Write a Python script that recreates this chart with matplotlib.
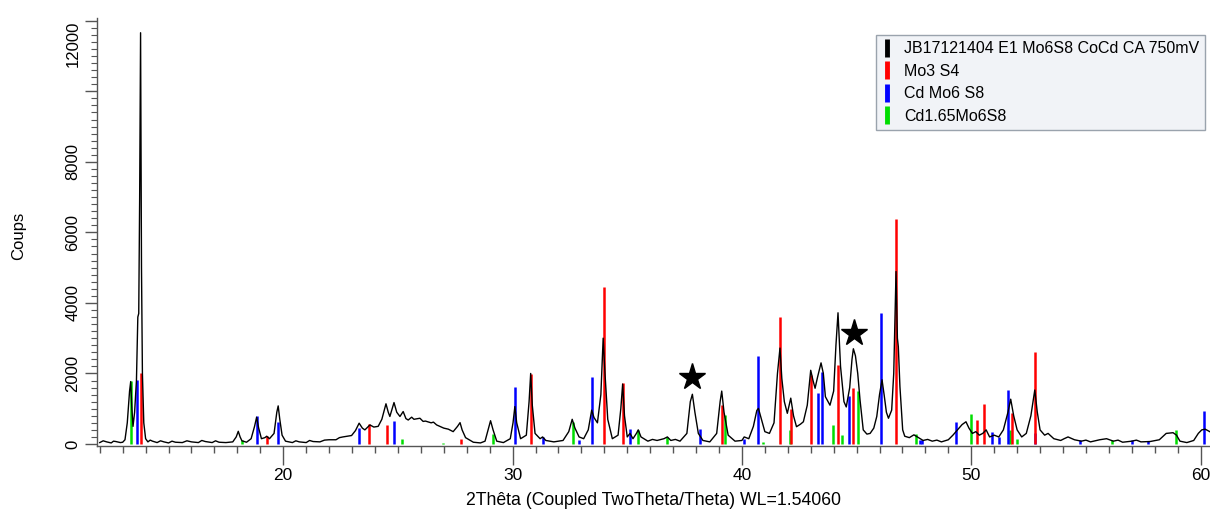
import matplotlib
matplotlib.use("Agg")
import matplotlib.pyplot as plt
from matplotlib.lines import Line2D
from matplotlib.ticker import MultipleLocator, FixedLocator
from matplotlib import font_manager as fm

# ---------------- data ----------------
two_theta = [12.0, 12.15, 12.3, 12.5, 12.6, 12.7, 12.9, 13.0, 13.1, 13.2, 13.3, 13.35, 13.4, 13.45, 13.52, 13.6,
             13.66, 13.70, 13.74, 13.78, 13.82, 13.86, 13.92, 14.0, 14.1, 14.2, 14.3, 14.5, 14.65, 14.8, 15.0,
             15.15, 15.3, 15.6, 15.8, 16.0, 16.3, 16.45, 16.6, 16.9, 17.05, 17.2, 17.5, 17.8, 17.95, 18.04, 18.12, 18.2, 18.4,
             18.6, 18.75, 18.84, 18.93, 19.05, 19.2, 19.28, 19.4, 19.6, 19.72, 19.78, 19.85, 19.95,
             20.1, 20.4, 20.55, 20.7, 21.0, 21.15, 21.3, 21.6, 21.8, 22.0, 22.3, 22.45, 22.6, 22.98, 23.15, 23.31, 23.45, 23.56,
             23.78, 23.95, 24.14, 24.3, 24.48, 24.58, 24.65, 24.83, 24.95, 25.09, 25.23, 25.35, 25.45,
             25.6, 25.7, 25.96, 26.1, 26.2, 26.45, 26.55, 26.69, 27.0, 27.2, 27.41, 27.6, 27.71, 27.8, 27.95, 28.29,
             28.6, 28.8, 28.95, 29.04, 29.15, 29.31, 29.6, 29.9, 30.02, 30.1, 30.18, 30.35, 30.6,
             30.72, 30.79, 30.86, 30.98, 31.2, 31.31, 31.45, 31.8, 32.2, 32.45, 32.6, 32.72, 32.9,
             33.1, 33.3, 33.45, 33.55, 33.7, 33.85, 33.95, 34.03, 34.15, 34.35, 34.6, 34.72, 34.8,
             34.88, 35.0, 35.12, 35.25, 35.4, 35.48, 35.6, 35.9, 36.1, 36.3, 36.6, 36.75, 36.9, 37.1, 37.3, 37.6,
             37.75, 37.84, 37.95, 38.1, 38.3, 38.6, 38.9, 39.05, 39.12, 39.22, 39.4, 39.7, 40.0,
             40.1, 40.3, 40.5, 40.65, 40.72, 40.85, 41.0, 41.2, 41.4, 41.55, 41.66, 41.74, 41.85,
             41.98, 42.13, 42.25, 42.38, 42.55, 42.68, 42.85, 43.0, 43.1, 43.19, 43.3, 43.45, 43.55,
             43.64, 43.84, 44.0, 44.1, 44.19, 44.3, 44.45, 44.55, 44.7, 44.8, 44.86, 44.95, 45.05,
             45.15, 45.29, 45.45, 45.59, 45.75, 45.88, 46.0, 46.11, 46.2, 46.3, 46.39, 46.53, 46.62,
             46.72, 46.78, 46.82, 46.89, 47.01, 47.1, 47.3, 47.5, 47.65, 47.9, 48.1, 48.3, 48.5, 48.7, 49.0,
             49.2, 49.4, 49.6, 49.77, 49.9, 50.05, 50.2, 50.35, 50.5, 50.65, 50.8, 51.0, 51.2, 51.4,
             51.6, 51.72, 51.85, 52.0, 52.2, 52.4, 52.6, 52.77, 52.88, 53.0, 53.2, 53.35, 53.6,
             53.9, 54.05, 54.22, 54.5, 54.8, 55.0, 55.2, 55.6, 55.9, 56.2, 56.4, 56.6, 57.0, 57.2, 57.4, 57.8, 58.2, 58.5,
             58.8, 58.95, 59.1, 59.4, 59.7, 59.9, 60.05, 60.2, 60.4]
counts = [40, 90, 60, 30, 80, 70, 40, 50, 120, 600, 1500, 1770, 1000, 500, 900, 1800,
          3600, 3700, 7000, 11660, 5000, 2000, 600, 150, 60, 110, 80, 40, 90, 60, 30,
          80, 50, 40, 90, 60, 40, 100, 70, 40, 90, 50, 40, 60, 200, 360, 200, 90, 50,
          150, 500, 760, 450, 150, 180, 220, 150, 300, 900, 1080, 700, 250,
          80, 40, 90, 60, 40, 100, 70, 60, 110, 120, 120, 180, 200, 240, 380, 590, 450, 400,
          540, 480, 500, 700, 1140, 900, 780, 1175, 900, 780, 920, 720, 680,
          760, 700, 730, 640, 650, 600, 620, 540, 450, 420, 350, 500, 605, 400, 180, 50,
          30, 80, 450, 660, 400, 80, 40, 150, 600, 1060, 600, 150, 250,
          1200, 2000, 1100, 300, 150, 200, 100, 60, 100, 350, 700, 450, 200,
          150, 400, 960, 750, 600, 1400, 3000, 2000, 700, 150, 250, 1000, 1700,
          800, 200, 300, 150, 300, 400, 200, 80, 130, 100, 150, 200, 100, 130, 80, 300,
          1200, 1410, 900, 300, 100, 60, 300, 1200, 1500, 900, 250, 80, 100,
          200, 150, 500, 950, 1010, 700, 350, 300, 600, 2000, 2720, 1860, 1200,
          870, 1300, 800, 490, 560, 630, 1100, 2090, 1800, 1580, 1900, 2300, 2000,
          1340, 1100, 1500, 2800, 3720, 2200, 1200, 1050, 1600, 2400, 2700, 2500, 2000,
          1250, 400, 280, 300, 450, 780, 1400, 1820, 1400, 900, 730, 960, 2000,
          4890, 3000, 2760, 1630, 400, 220, 180, 260, 200, 100, 130, 80, 110, 60, 120,
          250, 400, 550, 630, 450, 300, 350, 250, 300, 400, 200, 250, 200, 400,
          900, 1270, 800, 400, 200, 300, 800, 1530, 900, 400, 250, 300, 150,
          100, 150, 200, 120, 80, 110, 60, 120, 150, 80, 110, 50, 80, 110, 60, 70, 120, 300,
          320, 250, 80, 40, 100, 300, 400, 420, 350]

mo3s4_pos = [13.78, 19.28, 23.75, 24.54, 27.74, 30.79, 33.99, 34.80, 39.12, 41.66, 42.12,
             43.03, 44.19, 44.86, 46.71, 50.24, 50.57, 51.77, 52.77]
mo3s4_int = [2000, 225, 567, 539, 133, 1985, 4442, 1739, 1106, 3610, 1000,
             1950, 2240, 1597, 6370, 680, 1125, 870, 2617]

cdmo6s8_pos = [13.61, 18.84, 19.78, 23.30, 24.83, 30.10, 31.31, 32.90, 33.45, 35.12, 38.16,
               40.09, 40.69, 43.33, 43.51, 44.67, 46.08, 47.75, 47.85, 49.35, 50.89, 51.22,
               51.62, 52.79, 54.74, 57.00, 57.72, 60.15]
cdmo6s8_int = [1814, 794, 633, 444, 652, 1626, 208, 113, 1890, 416, 416,
               150, 2495, 1450, 2040, 1350, 3715, 100, 100, 614, 331, 200,
               1531, 300, 100, 100, 80, 944]

cd165_pos = [13.38, 18.19, 25.16, 26.97, 29.16, 32.65, 35.48, 36.75, 39.26, 40.91, 42.10,
             43.99, 44.35, 45.08, 47.59, 49.99, 51.70, 52.01, 56.13, 58.92]
cd165_int = [1800, 100, 130, 40, 280, 633, 397, 200, 822, 50, 400,
             539, 255, 1500, 280, 850, 400, 150, 100, 397]

star_pos = [37.84, 44.90]
star_y = [1900, 3150]

legend_labels = ["JB17121404 E1 Mo6S8 CoCd CA 750mV", "Mo3 S4", "Cd Mo6 S8", "Cd1.65Mo6S8"]
x_ticks = [20, 30, 40, 50, 60]
y_ticks = [0, 2000, 4000, 6000, 8000, 10000, 12000]
y_tick_labels = ["0", "2000", "4000", "6000", "8000", "", "12000"]

# ---------------- fonts ----------------
def has_font(name):
    try:
        fm.findfont(fm.FontProperties(family=name), fallback_to_default=False)
        return True
    except Exception:
        return False

base_font = "Liberation Sans" if has_font("Liberation Sans") else "DejaVu Sans"
plt.rcParams["font.family"] = [base_font, "DejaVu Sans"]

# ---------------- figure ----------------
fig = plt.figure(figsize=(12.1, 5.12), dpi=100)
ax = fig.add_axes([97 / 1210, 66 / 512, 1113 / 1210, 428 / 512])

c_red, c_blue, c_green = "#ff0000", "#0000ff", "#00dd00"
ax.vlines(cd165_pos, 0, cd165_int, color=c_green, lw=1.8, zorder=2)
ax.vlines(cdmo6s8_pos, 0, cdmo6s8_int, color=c_blue, lw=1.8, zorder=2)
ax.vlines(mo3s4_pos, 0, mo3s4_int, color=c_red, lw=1.8, zorder=2)
ax.plot(two_theta, counts, color="black", lw=1.0, zorder=3)
ax.plot(star_pos, star_y, linestyle="none", marker="*", color="black", ms=20, zorder=4)

ax.set_xlim(11.88, 60.41)
ax.set_ylim(-57, 12078)

for s in ["top", "right"]:
    ax.spines[s].set_visible(False)
axis_col = "#555555"
for s in ["left", "bottom"]:
    ax.spines[s].set_color(axis_col)
    ax.spines[s].set_linewidth(1.0)

ax.xaxis.set_major_locator(FixedLocator(x_ticks))
ax.xaxis.set_minor_locator(MultipleLocator(1))
ax.yaxis.set_major_locator(FixedLocator(y_ticks))
ax.set_yticklabels(y_tick_labels)
ax.yaxis.set_minor_locator(MultipleLocator(200))
ax.tick_params(axis="x", which="major", direction="out", length=14, width=1.0, color=axis_col, pad=2)
ax.tick_params(axis="x", which="minor", direction="out", length=5, width=1.0, color=axis_col)
ax.tick_params(axis="y", which="major", direction="out", length=9, width=1.0, color=axis_col, pad=3)
ax.tick_params(axis="y", which="minor", direction="out", length=4, width=0.8, color=axis_col)

for lab in ax.get_xticklabels():
    lab.set_fontsize(12.5)
for lab in ax.get_yticklabels():
    lab.set_rotation(90)
    lab.set_fontsize(12)
    lab.set_verticalalignment("center")
ax.get_yticklabels()[-1].set_verticalalignment("top")

ax.set_xlabel("2Thêta (Coupled TwoTheta/Theta) WL=1.54060", fontsize=12.7, labelpad=6)
ax.set_ylabel("Coups", fontsize=12)
ax.yaxis.set_label_coords(-0.064, 0.49)

handles = [Line2D([0], [0], color=c, lw=0, marker="|", ms=13, mew=3.5)
           for c in ["black", c_red, c_blue, c_green]]
leg = ax.legend(handles, legend_labels, loc="upper right", bbox_to_anchor=(0.9955, 0.960),
                borderaxespad=0, fontsize=11.5, frameon=True, fancybox=False,
                handlelength=0.6, handletextpad=0.75, labelspacing=0.47, borderpad=0.38)
leg.get_frame().set_facecolor("#f1f3f7")
leg.get_frame().set_edgecolor("#9aa3ad")
leg.get_frame().set_linewidth(1.0)
leg.get_frame().set_alpha(1.0)

fig.savefig("out.png", dpi=100)
